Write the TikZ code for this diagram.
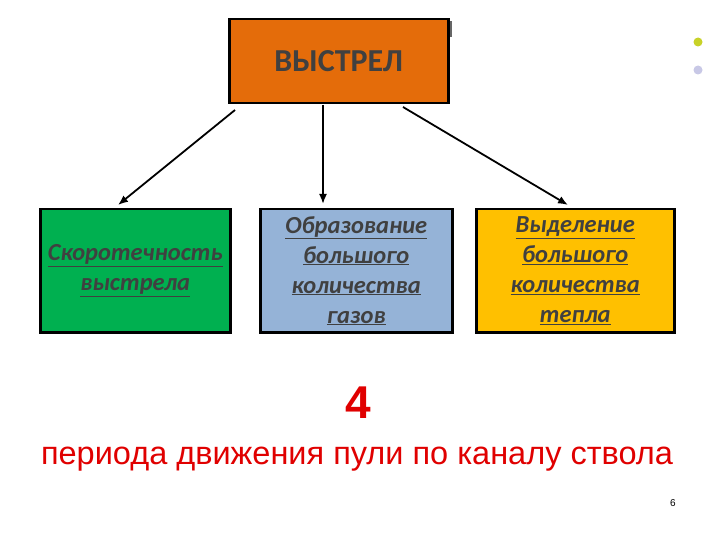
\documentclass[tikz,border=0pt]{standalone}
\usepackage{fontspec}
\setmainfont{Carlito}
\newfontfamily\arialf{Liberation Sans}
\definecolor{orng}{HTML}{E46C0A}
\definecolor{grn}{HTML}{00B050}
\definecolor{blu}{HTML}{95B3D7}
\definecolor{yel}{HTML}{FFC000}
\definecolor{rd}{HTML}{E00000}
\usetikzlibrary{arrows.meta}
\tikzset{
 box/.style={draw=black,line width=2.5pt,minimum width=190pt,minimum height=123pt,anchor=north west,align=center,inner sep=2pt,font=\fontsize{24.5}{30}\selectfont\bfseries\itshape,text=black!75},
 arr/.style={-{Latex[length=10pt,width=8pt]},line width=1.8pt}
}
\begin{document}
\begin{tikzpicture}[x=1pt,y=-1pt]
\useasboundingbox[fill=white] (0,0) rectangle (720,540);
\node[box,fill=orng,minimum width=219pt,minimum height=84pt,font=\fontsize{32}{36}\selectfont\bfseries] (top) at (228,18) {ВЫСТРЕЛ};
\node[box,fill=grn] (g) at (39,208) {\underline{Скоротечность}\\\underline{выстрела}};
\node[box,fill=blu,minimum width=192pt] (b) at (259,208) {\underline{Образование}\\\underline{большого}\\\underline{количества}\\\underline{газов}};
\node[box,fill=yel,minimum width=198pt] (y) at (475,208) {\underline{Выделение}\\\underline{большого}\\\underline{количества}\\\underline{тепла}};
\coordinate (s1) at (235,110); \coordinate (e1) at (118,205);
\coordinate (s2) at (323,105); \coordinate (e2) at (323,204);
\coordinate (s3) at (403,107); \coordinate (e3) at (568,205);
\draw[arr] (s1) -- (e1);
\draw[arr] (s2) -- (e2);
\draw[arr] (s3) -- (e3);
\node[text=rd,font=\arialf\fontsize{46}{50}\selectfont\bfseries] (four) at (358,403) {4};
\node[text=rd,font=\arialf\fontsize{32.5}{36}\selectfont] (line) at (357,459) {периода движения пули по каналу ствола};
\node[font=\arialf\fontsize{10}{12}\selectfont] (six) at (673,503) {6};
\node[draw=black!60,line width=0.8pt,minimum height=15pt,inner sep=0pt] (bar) at (451,29) {};
\node[circle,fill={rgb,255:red,200;green,210;blue,40},minimum size=9pt,inner sep=0pt] (d1) at (698,42) {};
\node[circle,fill={rgb,255:red,200;green,200;blue,230},minimum size=9pt,inner sep=0pt] (d2) at (698,70) {};
\end{tikzpicture}
\end{document}
